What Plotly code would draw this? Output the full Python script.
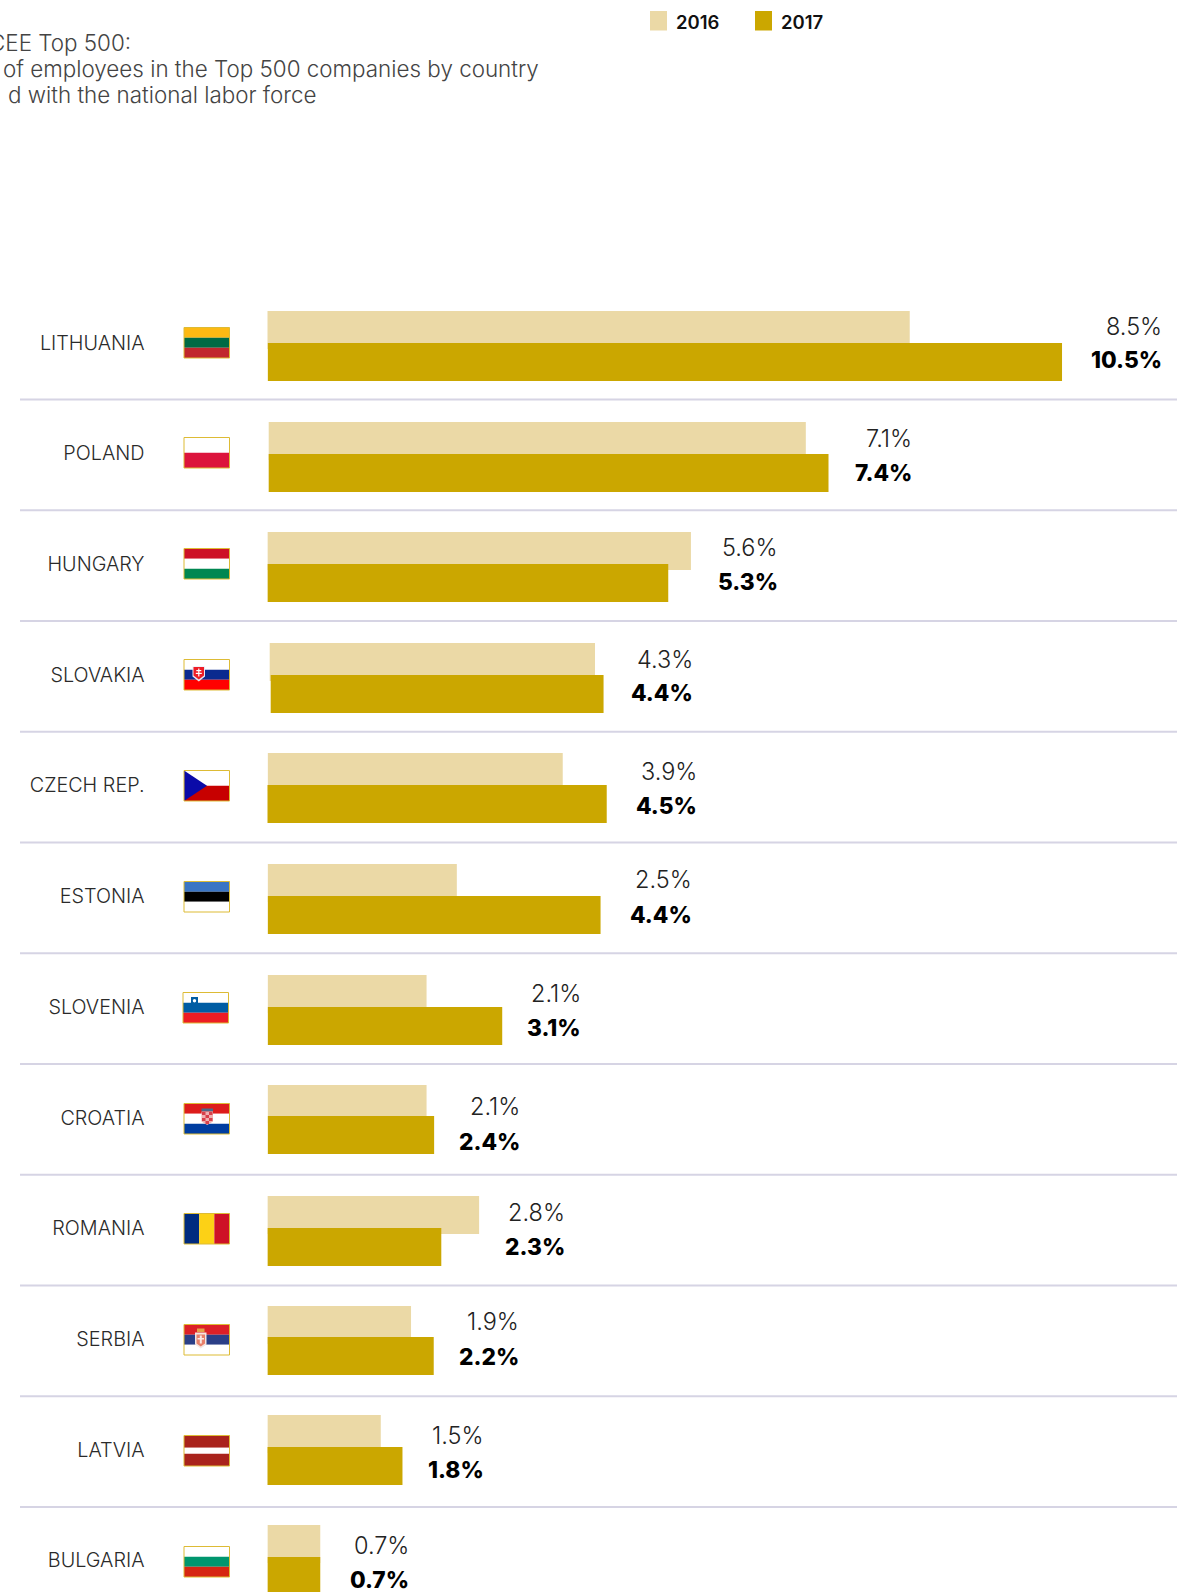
import plotly.graph_objects as go

# ---------- data ----------
countries = ["LITHUANIA", "POLAND", "HUNGARY", "SLOVAKIA", "CZECH REP.", "ESTONIA",
             "SLOVENIA", "CROATIA", "ROMANIA", "SERBIA", "LATVIA", "BULGARIA"]
values_2016 = [8.5, 7.1, 5.6, 4.3, 3.9, 2.5, 2.1, 2.1, 2.8, 1.9, 1.5, 0.7]
values_2017 = [10.5, 7.4, 5.3, 4.4, 4.5, 4.4, 3.1, 2.2, 2.3, 2.2, 1.8, 0.7]
labels_2016 = ["8.5%", "7.1%", "5.6%", "4.3%", "3.9%", "2.5%", "2.1%", "2.1%", "2.8%", "1.9%", "1.5%", "0.7%"]
labels_2017 = ["10.5%", "7.4%", "5.3%", "4.4%", "4.5%", "4.4%", "3.1%", "2.4%", "2.3%", "2.2%", "1.8%", "0.7%"]
series_names = ["2016", "2017"]
title_lines = ["CEE Top 500:", "of employees in the Top 500 companies by country", "d with the national labor force"]

# ---------- layout (pixels) ----------
W, H = 1186, 1592
X0, PX_PER_PCT = 267.5, 75.65
ROW0, PITCH = 342.7, 110.7
BAR_H = 38
FONT = "Inter, 'Noto Sans', sans-serif"
C16, C17 = "#EBD9A6", "#CBA700"

top_2016 = [311, 422, 532, 643, 753, 864, 975, 1085, 1196, 1306, 1415, 1525]
top_2017 = [343, 454, 564, 675, 785, 896, 1007, 1116, 1228, 1337, 1447, 1557]
left_2016 = [266.7, 268.7, 267.3, 269.7, 267.7, 267.7, 267.7, 267.7, 267.3, 267.3, 267.3, 267.3]
left_2017 = [267.7, 268.7, 267.3, 270.7, 266.3, 267.7, 267.7, 267.7, 267.3, 267.3, 266.3, 267.3]
label_right = [1160.7, 911.3, 776.8, 692, 696, 691.3, 579.8, 518.9, 563.5, 518, 483, 408.3]
label_y_2016 = [326, 438.3, 547.3, 660, 771.7, 880, 993, 1106.8, 1212.4, 1321.7, 1435, 1545.7]
label_y_2017 = [360, 473.3, 581.8, 693.3, 806, 915, 1027.6, 1142.3, 1247, 1357.3, 1470, 1580]
flag_top = [327.5, 437.5, 548.5, 659.5, 770.5, 881.5, 992.5, 1103.5, 1213.5, 1324.5, 1435.5, 1546.5]
flag_left = [184] * 6 + [183] + [184] * 5
FLAG_W, FLAG_H = 45.5, 30.5

flag_stripes = {
    "LITHUANIA": ("h", [("#FDB913", 1), ("#006A44", 1), ("#C1272D", 1)]),
    "POLAND": ("h", [("#FFFFFF", 1), ("#DC143C", 1)]),
    "HUNGARY": ("h", [("#CD1126", 1), ("#FFFFFF", 1), ("#008751", 1)]),
    "SLOVAKIA": ("h", [("#FFFFFF", 1), ("#0B2A8F", 1), ("#FF0000", 1)]),
    "CZECH REP.": ("h", [("#FFFFFF", 1), ("#C70000", 1)]),
    "ESTONIA": ("h", [("#3A75C4", 1), ("#000000", 1), ("#FFFFFF", 1)]),
    "SLOVENIA": ("h", [("#FFFFFF", 1), ("#005DA4", 1), ("#ED1C24", 1)]),
    "CROATIA": ("h", [("#DD1C1B", 1), ("#FFFFFF", 1), ("#003DA0", 1)]),
    "ROMANIA": ("v", [("#002B7F", 1), ("#FCD116", 1), ("#CE1126", 1)]),
    "SERBIA": ("h", [("#DC2027", 1), ("#2B3F87", 1), ("#FFFFFF", 1)]),
    "LATVIA": ("h", [("#A9231C", 2), ("#FFFFFF", 1), ("#A9231C", 2)]),
    "BULGARIA": ("h", [("#FFFFFF", 1), ("#00966E", 1), ("#D62612", 1)]),
}


def px(x):
    return x / W


def py(y):
    return 1 - y / H


def centre(i):
    return ROW0 + PITCH * i


fig = go.Figure()
for name, vals, tops, lefts, col in [
    (series_names[0], values_2016, top_2016, left_2016, C16),
    (series_names[1], values_2017, top_2017, left_2017, C17),
]:
    fig.add_trace(go.Bar(
        name=name, y=countries, x=vals, orientation="h",
        base=[(l - X0) / PX_PER_PCT for l in lefts],
        width=BAR_H / PITCH,
        offset=[(t - centre(i)) / PITCH for i, t in enumerate(tops)],
        marker=dict(color=col, line=dict(width=0)),
        showlegend=False,
    ))

shapes, annotations = [], []


def rect(x0, y0, x1, y1, fill, line=None, lw=1):
    shapes.append(dict(type="rect", xref="paper", yref="paper",
                       x0=px(x0), x1=px(x1), y0=py(y0), y1=py(y1), fillcolor=fill,
                       line=dict(color=line, width=lw) if line else dict(width=0)))


def path(points, fill):
    d = "M" + " L".join(f"{px(x):.5f},{py(y):.5f}" for x, y in points) + " Z"
    shapes.append(dict(type="path", xref="paper", yref="paper", path=d, fillcolor=fill, line=dict(width=0)))


# separators
for k in range(11):
    y = 399.5 + 110.75 * k
    shapes.append(dict(type="line", xref="paper", yref="paper", x0=px(20), x1=px(1177),
                       y0=py(y), y1=py(y), line=dict(color="#D6D4E4", width=2)))

# flags
for i, c in enumerate(countries):
    x, y = flag_left[i], flag_top[i]
    mode, cols = flag_stripes[c]
    total = sum(w for _, w in cols)
    done = 0
    for col, w in cols:
        a, b = done / total, (done + w) / total
        done += w
        if mode == "h":
            rect(x, y + FLAG_H * a, x + FLAG_W, y + FLAG_H * b, col)
        else:
            rect(x + FLAG_W * a, y, x + FLAG_W * b, y + FLAG_H, col)
    if c == "CZECH REP.":
        path([(x, y), (x + 23, y + FLAG_H / 2), (x, y + FLAG_H)], "#0A0AA8")
    if c == "SLOVAKIA":
        path([(x + 8.5, y + 7), (x + 21, y + 7), (x + 21, y + 17), (x + 14.8, y + 22), (x + 8.5, y + 17)], "#E8E8F4")
        path([(x + 9.5, y + 7.5), (x + 20, y + 7.5), (x + 20, y + 16), (x + 14.8, y + 20), (x + 9.5, y + 16)], "#EE1C25")
        rect(x + 14.2, y + 9, x + 15.4, y + 17, "#FFFFFF")
        rect(x + 12.3, y + 10.5, x + 17.3, y + 11.7, "#FFFFFF")
        rect(x + 11.8, y + 13.3, x + 17.8, y + 14.5, "#FFFFFF")
    if c == "SLOVENIA":
        path([(x + 8, y + 4.5), (x + 15, y + 4.5), (x + 15, y + 13), (x + 11.5, y + 15), (x + 8, y + 13)], "#005DA4")
        shapes.append(dict(type="circle", xref="paper", yref="paper", x0=px(x + 9.8), x1=px(x + 13.2),
                           y0=py(y + 6.5), y1=py(y + 10), fillcolor="#FFFFFF", line=dict(width=0)))
    if c == "CROATIA":
        rect(x + 17.5, y + 5, x + 29, y + 8, "#4A6A8A")
        path([(x + 17.5, y + 8), (x + 29, y + 8), (x + 29, y + 18), (x + 23.2, y + 21.5), (x + 17.5, y + 18)], "#F0B0B0")
        for a in range(4):
            for b in range(3):
                if (a + b) % 2 == 0:
                    rect(x + 18 + 3.5 * b, y + 8.5 + 3 * a, x + 21.5 + 3.5 * b, y + 11.5 + 3 * a, "#D8404A")
    if c == "SERBIA":
        path([(x + 11, y + 8), (x + 22.5, y + 8), (x + 22.5, y + 20), (x + 16.8, y + 24), (x + 11, y + 20)], "#F5E6E2")
        rect(x + 13, y + 4, x + 20.5, y + 7.5, "#E5A24A")
        path([(x + 12.5, y + 10), (x + 21, y + 10), (x + 21, y + 19), (x + 16.8, y + 22), (x + 12.5, y + 19)], "#E8806A")
        rect(x + 15.8, y + 11, x + 17.8, y + 19, "#FBE8E4")
        rect(x + 13.5, y + 13.5, x + 20, y + 15, "#FBE8E4")
    rect(x, y, x + FLAG_W, y + FLAG_H, "rgba(0,0,0,0)", line="#DDBB35", lw=1)


def text(x, y, s, size, color, weight=400, anchor="right"):
    annotations.append(dict(xref="paper", yref="paper", x=px(x), y=py(y), text=s, showarrow=False,
                            xanchor=anchor, yanchor="middle", borderpad=0,
                            font=dict(family=FONT, size=size, color=color, weight=weight)))


# value labels
for i in range(len(countries)):
    text(label_right[i] + 2, label_y_2016[i], labels_2016[i], 23.5, "#222222", 300)
    text(label_right[i] + 2, label_y_2017[i] - 0.6, labels_2017[i], 22.7, "#000000", 800)

# heading (cut by the page's left edge, as in the reference)
for line, right, y in zip(title_lines, [132, 540, 317], [42.6, 68, 94.4]):
    text(right, y, line, 22.4, "#444444", 300)

# legend key
for name, x, col in [(series_names[0], 650, C16), (series_names[1], 755, C17)]:
    rect(x, 11, x + 17, 30.5, col)
    text(x + 25, 22.3, name, 18.5, "#111111", 600, anchor="left")

fig.update_layout(
    width=W, height=H, margin=dict(l=0, r=0, t=0, b=0), template="none",
    barmode="overlay", paper_bgcolor="#FFFFFF", plot_bgcolor="#FFFFFF",
    font=dict(family=FONT), shapes=shapes, annotations=annotations,
    xaxis=dict(domain=[px(X0), 1], range=[0, (W - X0) / PX_PER_PCT], visible=False, fixedrange=True),
    yaxis=dict(type="category", categoryorder="array", categoryarray=countries,
               range=[(H - ROW0) / PITCH, -ROW0 / PITCH], anchor="free", position=px(144.5),
               showgrid=False, zeroline=False, showline=False, ticks="", automargin=False,
               tickfont=dict(family=FONT, size=19.8, color="#2A2A2A", weight=300), fixedrange=True),
)

fig.write_html("out.html", config=dict(displayModeBar=False),
               post_script="document.body.style.margin='0';document.body.style.overflow='hidden';")
